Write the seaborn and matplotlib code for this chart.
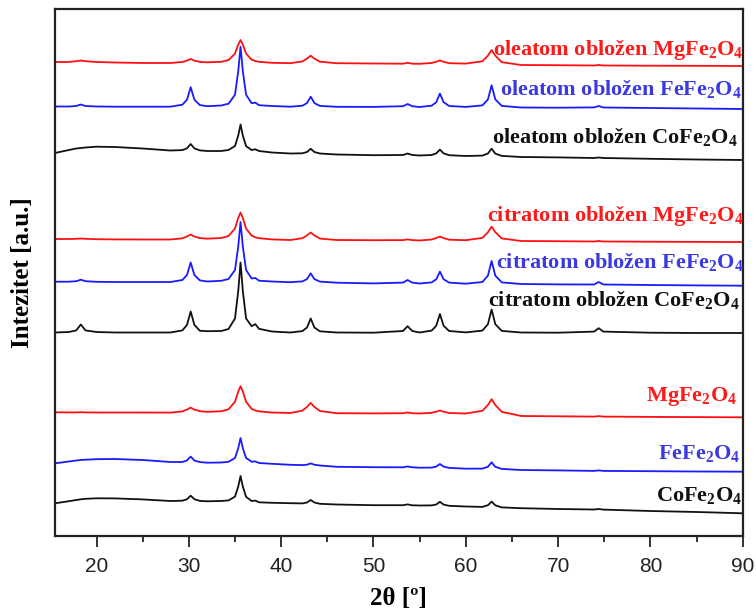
import matplotlib
matplotlib.use("Agg")
import matplotlib.pyplot as plt
import seaborn as sns
import pandas as pd
from matplotlib.ticker import MultipleLocator

# ---------------- data (2θ grid shared by all patterns) ----------------
two_theta = [15.5, 17, 17.8, 18.3, 18.8, 20, 22, 25, 28, 29.3, 29.8, 30.2, 30.6, 31.2,
             32, 33.5, 34.3, 35.0, 35.35, 35.6, 35.85, 36.2, 36.8, 37.2, 37.6, 39, 41,
             42.3, 42.8, 43.2, 43.6, 44.2, 46, 50, 53.2, 53.7, 54.2, 55, 56.3, 56.8, 57.2,
             57.6, 58.2, 60, 61.8, 62.4, 62.8, 63.2, 63.9, 66, 70, 73.9, 74.4, 74.9, 80,
             85, 90]

ole_mg = [474, 474, 474.8, 475.5, 474.8, 474, 473.5, 473, 473, 474, 475.4, 477, 475.4, 474.1,
          473.7, 474.2, 476, 482.4, 491.4, 496, 491.4, 482.4, 476.3, 475, 474.2, 473.2, 472.8,
          474.6, 477.4, 480.3, 477.4, 474.3, 472.8, 472.5, 472.3, 473.2, 472.3, 472.2, 473,
          474.2, 475.6, 474.2, 472.8, 472.4, 474.7, 480.4, 486, 480.4, 473.8, 471, 470.8,
          470.5, 471, 470.5, 470.3, 470.2, 470]
ole_fe = [429.5, 429.5, 430, 431.5, 430, 429.5, 429.3, 429.3, 429.3, 431.3, 436.3, 448.8,
          436.3, 430.9, 429.8, 430.5, 432.3, 441.3, 464.7, 489.3, 464.7, 441.3, 432.8, 433.4,
          430.8, 430, 429.3, 430.3, 432.9, 439.3, 432.9, 430.1, 429.2, 429.1, 429.8, 432,
          429.8, 429, 430.3, 433.8, 442.4, 433.8, 430, 429.1, 430.6, 436.6, 450.7, 436.6,
          430.1, 428.5, 428.3, 428.6, 430, 428.5, 428, 427.5, 427]
ole_co = [383, 386, 387.5, 388, 388.5, 389.3, 389, 387.5, 385.5, 385.9, 387.7, 392, 387.6,
          385.6, 385, 385, 386, 390, 400.5, 411.5, 400.4, 389.9, 386, 386.7, 385, 383.5,
          382.5, 382.7, 384, 387.2, 384, 382.5, 381.5, 380.8, 381, 382.5, 381, 380.5, 381,
          382.6, 386.4, 382.6, 380.8, 380, 380.4, 382.5, 387.3, 382.4, 380.1, 379, 378.6,
          378, 378.5, 378, 377.2, 376.5, 376]
cit_mg = [297, 297, 297.2, 297.5, 297.2, 296.8, 296.6, 296.5, 296.5, 297.7, 299.5, 301.5,
          299.5, 297.9, 297.3, 298, 300, 307.5, 318.1, 323.5, 318, 307.4, 300.4, 298.7,
          297.8, 296.6, 296, 297.8, 300.6, 303.5, 300.6, 297.4, 296, 295.8, 295.9, 296.6,
          295.9, 295.5, 296.5, 297.9, 299.5, 297.9, 296.3, 295.8, 298.1, 303.8, 309.3,
          303.8, 297.6, 295, 294.8, 294.5, 295, 294.5, 294.3, 294.1, 294]
cit_fe = [254.3, 254.3, 254.8, 256.3, 254.8, 254.2, 254, 254, 254, 256, 261, 273.5, 261,
          255.6, 254.5, 255.2, 257, 266, 289.4, 314, 289.4, 266, 257.5, 258, 255.3, 254.5,
          253.8, 254.6, 256.9, 262.7, 256.9, 254.4, 253.3, 252.6, 253.4, 256, 253.4, 252.5,
          253.6, 256.7, 264.4, 256.7, 253.4, 252.3, 254, 260.4, 275, 260.4, 253.6, 252,
          251.6, 251.5, 254, 251.5, 251, 250.6, 250.3]
cit_co = [203.5, 204, 205.6, 211.5, 205.6, 204, 203.5, 203.5, 203.5, 205.6, 211.1, 224.5,
          211.1, 205.2, 204.8, 205, 207, 217.5, 244.8, 273.5, 244.8, 217.5, 209.8, 211.9,
          207.2, 204.5, 203.5, 204.9, 208.5, 217.5, 208.5, 204.7, 203.5, 203.3, 205, 209.8,
          205, 203.5, 205.4, 210.2, 222, 210.2, 205, 203.6, 205.4, 211.8, 226.5, 211.8,
          205.1, 203.5, 203.3, 204.4, 207.8, 204.4, 203.3, 203, 203]
bare_mg = [123.7, 123.6, 123.6, 123.8, 123.6, 123.5, 123.5, 123.5, 123.4, 124.6, 126.4,
           128.4, 126.4, 124.8, 124.2, 124.7, 126.7, 134.2, 144.5, 149.8, 144.5, 134.2,
           127.2, 125.5, 124.6, 123.5, 123, 125.4, 129.1, 133, 129.1, 125, 122.8, 122.6,
           122.8, 123.5, 122.8, 122.5, 123.2, 124.3, 125.5, 124.3, 123, 122.5, 125.2, 131,
           136.8, 131, 124.2, 120, 119.7, 119.4, 119.9, 119.4, 119.1, 118.9, 118.7]
bare_fe = [72.7, 74.5, 75.5, 76, 76.3, 76.8, 77, 76, 74, 74, 75.6, 79.4, 75.5, 73.9, 73.3,
           73.5, 74.2, 78, 87.8, 98, 87.8, 78, 74.3, 74.6, 73, 72.2, 71.2, 70.9, 71.3, 72.6,
           71.3, 70.5, 69.2, 68.8, 68.7, 69.5, 68.7, 68.3, 68.4, 69.4, 72, 69.4, 68.1, 67.3,
           67.4, 69.2, 73.7, 69.2, 67.1, 66, 65.6, 65.1, 65.6, 65.1, 64.8, 64.5, 64.3]
bare_co = [32.7, 34.8, 36, 36.7, 37.2, 37.7, 37.6, 36.6, 35, 35.3, 36.8, 40.3, 36.8, 35.1,
           34.7, 35, 35.6, 39.4, 49.4, 60, 49.4, 39.2, 35, 35.4, 33.7, 33.2, 32.8, 32.6,
           33.5, 36, 33.5, 32.2, 31.5, 30.8, 30.8, 31.6, 30.7, 30.5, 30.6, 31.5, 34.2, 31.4,
           30.2, 29.5, 29.1, 30.8, 34.4, 30.7, 28.6, 27.8, 27, 26.5, 27, 26.4, 25, 24, 22.7]

labels = ["oleatom obložen MgFe$_2$O$_4$", "oleatom obložen FeFe$_2$O$_4$",
          "oleatom obložen CoFe$_2$O$_4$", "citratom obložen MgFe$_2$O$_4$",
          "citratom obložen FeFe$_2$O$_4$", "citratom obložen CoFe$_2$O$_4$",
          "MgFe$_2$O$_4$", "FeFe$_2$O$_4$", "CoFe$_2$O$_4$"]
series = [ole_mg, ole_fe, ole_co, cit_mg, cit_fe, cit_co, bare_mg, bare_fe, bare_co]
x_ticks = [20, 30, 40, 50, 60, 70, 80, 90]

# ---------------- styling ----------------
line_colors = ["#ff1010", "#1a1aff", "#111111"] * 3
text_colors = ["#ff1a1a", "#3a3ae0", "#111111"] * 3
# label anchor (right edge x, centre y) in data coordinates
label_pos = [(90.1, 486), (89.9, 447), (89.4, 399),
             (90.1, 320), (90.1, 274), (89.7, 236),
             (89.4, 139), (89.7, 83), (89.9, 41)]

sns.set_theme(style="white")
plt.rcParams["mathtext.fontset"] = "custom"
plt.rcParams["mathtext.default"] = "regular"
plt.rcParams["font.family"] = ["Liberation Sans", "DejaVu Sans"]

fig = plt.figure(figsize=(7.56, 6.12), dpi=100)
ax = fig.add_axes([55 / 756, 1 - 536 / 612, (742.7 - 55) / 756, (536 - 9) / 612])

for name, ys, col in zip(labels, series, line_colors):
    df = pd.DataFrame({"x": two_theta, "y": ys})
    sns.lineplot(data=df, x="x", y="y", ax=ax, color=col, lw=1.3,
                 estimator=None, sort=False, legend=False)

for name, (lx, ly), col in zip(labels, label_pos, text_colors):
    ax.text(lx, ly, name, ha="right", va="center", color=col,
            fontsize=16, fontweight="bold", family=["Liberation Serif", "DejaVu Serif"])

ax.set_xlim(15.5, 90)
ax.set_ylim(0, 527)
ax.set_xticks(x_ticks)
ax.set_xticklabels([str(t) for t in x_ticks])
ax.xaxis.set_minor_locator(MultipleLocator(5))
ax.set_yticks([])
ax.tick_params(axis="x", which="major", direction="out", length=8, width=1.3,
               labelsize=15, pad=7, colors="#222222", bottom=True)
ax.tick_params(axis="x", which="minor", direction="out", length=4.5, width=1.3,
               bottom=True, colors="#222222")
for sp in ax.spines.values():
    sp.set_visible(True)
    sp.set_color("#222222")
    sp.set_linewidth(1.6)

ax.set_xlabel("2θ [º]", fontsize=18, fontweight="bold",
              family=["Liberation Serif", "DejaVu Serif"], labelpad=8, color="black")
ax.set_ylabel("Intezitet [a.u.]", fontsize=18, fontweight="bold",
              family=["Liberation Serif", "DejaVu Serif"], labelpad=15, color="black")

fig.savefig("out.png", dpi=100)
